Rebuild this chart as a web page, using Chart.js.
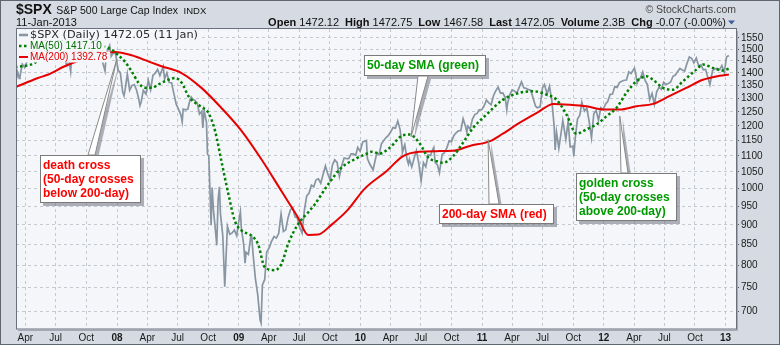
<!DOCTYPE html>
<html>
<head>
<meta charset="utf-8">
<script src="https://cdn.jsdelivr.net/npm/chart.js@4.4.1/dist/chart.umd.min.js"></script>
<style>
  body { margin: 0; background: #fff; }
  #wrap { position: relative; width: 780px; height: 345px; overflow: hidden; font-family: "Liberation Sans", Arial, sans-serif; color: #111; }
  #c { position: absolute; left: 0; top: 0; }
  .hd { position: absolute; white-space: nowrap; }
  .hd b { font-weight: bold; }
  .gap { margin-left: 6px; }
</style>
</head>
<body>
<div id="wrap">
  <canvas id="c" width="780" height="345"></canvas>
  <div class="hd" style="left:16px;top:0;line-height:18px">
    <span style="font-weight:bold;font-size:14px">$SPX</span>
    <span style="font-size:10.5px">S&amp;P 500 Large Cap Index</span>
    <span style="font-size:9.5px;margin-left:1px">INDX</span>
  </div>
  <div class="hd" style="left:16px;top:16px;line-height:13px;font-size:11px">11-Jan-2013</div>
  <div class="hd" style="right:54px;top:16px;line-height:13px;font-size:11px">
    <b>Open</b> 1472.12<b class="gap">High</b> 1472.75<b class="gap">Low</b> 1467.58<b class="gap">Last</b> 1472.05<b class="gap">Volume</b> 2.3B<b class="gap">Chg</b> -0.07 (-0.00%)
  </div>
  <div class="hd" style="right:44px;top:3px;line-height:12px;font-size:10.5px;color:#444">&copy; StockCharts.com</div>
</div>
<script>
// $SPX daily closes (sampled), Mar 2007 - Jan 2013
const spxDates = [
  '2007-03-02','2007-03-05','2007-03-09','2007-03-14','2007-03-16','2007-03-23','2007-03-30',
  '2007-04-05','2007-04-13','2007-04-20','2007-04-27',
  '2007-05-04','2007-05-11','2007-05-18','2007-05-25','2007-06-01',
  '2007-06-07','2007-06-15','2007-06-22','2007-06-29',
  '2007-07-06','2007-07-13','2007-07-19','2007-07-27',
  '2007-08-03','2007-08-06','2007-08-10','2007-08-15','2007-08-17','2007-08-24','2007-08-31',
  '2007-09-07','2007-09-14','2007-09-21','2007-09-28',
  '2007-10-05','2007-10-09','2007-10-12','2007-10-19','2007-10-26','2007-10-31',
  '2007-11-02','2007-11-09','2007-11-16','2007-11-26','2007-11-30',
  '2007-12-07','2007-12-10','2007-12-14','2007-12-21','2007-12-28',
  '2008-01-04','2008-01-11','2008-01-18','2008-01-22','2008-01-25',
  '2008-02-01','2008-02-08','2008-02-15','2008-02-22','2008-02-29',
  '2008-03-07','2008-03-10','2008-03-14','2008-03-20','2008-03-28',
  '2008-04-04','2008-04-11','2008-04-18','2008-04-25',
  '2008-05-02','2008-05-09','2008-05-19','2008-05-23','2008-05-30',
  '2008-06-06','2008-06-13','2008-06-20','2008-06-27',
  '2008-07-03','2008-07-11','2008-07-15','2008-07-18','2008-07-25',
  '2008-08-01','2008-08-08','2008-08-11','2008-08-15','2008-08-22','2008-08-29',
  '2008-09-05','2008-09-12','2008-09-15','2008-09-19','2008-09-26','2008-09-29',
  '2008-10-03','2008-10-10','2008-10-13','2008-10-17','2008-10-24','2008-10-27','2008-10-31',
  '2008-11-04','2008-11-07','2008-11-14','2008-11-20','2008-11-28',
  '2008-12-05','2008-12-12','2008-12-19','2008-12-26','2008-12-31',
  '2009-01-06','2009-01-09','2009-01-16','2009-01-20','2009-01-23','2009-01-30',
  '2009-02-06','2009-02-09','2009-02-13','2009-02-20','2009-02-27',
  '2009-03-06','2009-03-09','2009-03-13','2009-03-20','2009-03-26',
  '2009-04-03','2009-04-09','2009-04-17','2009-04-24',
  '2009-05-01','2009-05-08','2009-05-15','2009-05-22','2009-05-29',
  '2009-06-05','2009-06-12','2009-06-19','2009-06-26',
  '2009-07-02','2009-07-10','2009-07-17','2009-07-24','2009-07-31',
  '2009-08-07','2009-08-14','2009-08-21','2009-08-28',
  '2009-09-04','2009-09-11','2009-09-18','2009-09-25',
  '2009-10-02','2009-10-09','2009-10-16','2009-10-23','2009-10-30',
  '2009-11-06','2009-11-13','2009-11-20','2009-11-27',
  '2009-12-04','2009-12-11','2009-12-18','2009-12-24','2009-12-31',
  '2010-01-08','2010-01-19','2010-01-22','2010-01-29',
  '2010-02-08','2010-02-12','2010-02-19','2010-02-26',
  '2010-03-05','2010-03-12','2010-03-19','2010-03-26',
  '2010-04-01','2010-04-09','2010-04-16','2010-04-23','2010-04-30',
  '2010-05-06','2010-05-07','2010-05-14','2010-05-21','2010-05-25','2010-05-28',
  '2010-06-04','2010-06-11','2010-06-18','2010-06-25',
  '2010-07-02','2010-07-09','2010-07-16','2010-07-23','2010-07-30',
  '2010-08-06','2010-08-09','2010-08-13','2010-08-20','2010-08-26',
  '2010-09-03','2010-09-10','2010-09-17','2010-09-24',
  '2010-10-01','2010-10-08','2010-10-15','2010-10-22','2010-10-29',
  '2010-11-05','2010-11-12','2010-11-16','2010-11-19','2010-11-26',
  '2010-12-03','2010-12-10','2010-12-17','2010-12-23','2010-12-31',
  '2011-01-07','2011-01-14','2011-01-21','2011-01-28',
  '2011-02-04','2011-02-11','2011-02-18','2011-02-25',
  '2011-03-04','2011-03-11','2011-03-16','2011-03-18','2011-03-25',
  '2011-04-01','2011-04-08','2011-04-15','2011-04-21','2011-04-29',
  '2011-05-06','2011-05-13','2011-05-20','2011-05-27',
  '2011-06-03','2011-06-10','2011-06-15','2011-06-24',
  '2011-07-01','2011-07-07','2011-07-15','2011-07-22','2011-07-29',
  '2011-08-05','2011-08-08','2011-08-12','2011-08-19','2011-08-26','2011-08-31',
  '2011-09-09','2011-09-16','2011-09-22','2011-09-30',
  '2011-10-03','2011-10-07','2011-10-14','2011-10-21','2011-10-27',
  '2011-11-04','2011-11-11','2011-11-18','2011-11-25',
  '2011-12-02','2011-12-09','2011-12-16','2011-12-23','2011-12-30',
  '2012-01-06','2012-01-13','2012-01-20','2012-01-27',
  '2012-02-03','2012-02-10','2012-02-17','2012-02-24',
  '2012-03-02','2012-03-09','2012-03-16','2012-03-23',
  '2012-04-02','2012-04-06','2012-04-10','2012-04-13','2012-04-20','2012-04-27',
  '2012-05-04','2012-05-11','2012-05-18','2012-05-25',
  '2012-06-01','2012-06-08','2012-06-15','2012-06-22','2012-06-29',
  '2012-07-06','2012-07-13','2012-07-20','2012-07-27',
  '2012-08-03','2012-08-10','2012-08-17','2012-08-24','2012-08-31',
  '2012-09-07','2012-09-14','2012-09-21','2012-09-28',
  '2012-10-05','2012-10-12','2012-10-19','2012-10-26',
  '2012-11-02','2012-11-09','2012-11-15','2012-11-23','2012-11-30',
  '2012-12-07','2012-12-14','2012-12-21','2012-12-28','2012-12-31',
  '2013-01-04','2013-01-11'
];
const spxClose = [
  1387,1374,1402,1377,1386,1436,1421,
  1444,1452,1484,1494,
  1505,1505,1522,1515,1536,
  1491,1533,1503,1503,
  1530,1552,1553,1459,
  1433,1467,1453,1406,1445,1479,1474,
  1453,1484,1525,1527,
  1557,1565,1561,1500,1535,1549,
  1509,1453,1458,1407,1481,
  1504,1515,1468,1484,1478,
  1411,1401,1325,1310,1330,
  1395,1331,1349,1353,1331,
  1294,1273,1288,1330,1316,
  1370,1333,1390,1398,
  1414,1389,1426,1375,1400,
  1361,1360,1318,1278,
  1262,1239,1214,1260,1257,
  1260,1296,1305,1298,1292,1283,
  1242,1252,1193,1255,1213,1106,
  1099,899,1003,940,876,848,968,
  1005,930,873,752,896,
  876,879,887,872,903,
  935,890,850,805,831,826,
  869,870,827,770,735,
  683,677,756,768,832,
  843,857,870,866,
  878,929,883,887,919,
  940,946,921,918,
  896,879,940,979,987,
  1010,1005,1026,1029,
  1016,1042,1068,1044,
  1025,1071,1087,1079,1036,
  1069,1093,1091,1091,
  1106,1106,1102,1127,1115,
  1145,1150,1091,1074,
  1056,1075,1109,1104,
  1139,1150,1160,1167,
  1178,1194,1192,1217,1187,
  1128,1111,1136,1088,1074,1089,
  1065,1092,1117,1076,
  1023,1078,1065,1103,1101,
  1121,1127,1079,1071,1047,
  1104,1110,1125,1148,
  1146,1166,1176,1183,1183,
  1225,1199,1178,1199,1189,
  1224,1240,1244,1257,1258,
  1272,1293,1283,1276,
  1310,1329,1343,1320,
  1321,1304,1257,1279,1313,
  1332,1328,1320,1338,1364,
  1340,1338,1333,1331,
  1300,1271,1265,1268,
  1340,1353,1316,1346,1292,
  1199,1119,1179,1124,1177,1219,
  1154,1216,1129,1131,
  1099,1155,1224,1238,1285,
  1253,1263,1216,1159,
  1244,1255,1219,1265,1258,
  1278,1289,1315,1316,
  1345,1342,1361,1366,
  1370,1371,1404,1397,
  1419,1398,1358,1370,1379,1403,
  1369,1353,1295,1318,
  1278,1325,1343,1335,1362,
  1354,1357,1363,1386,
  1391,1405,1418,1411,1407,
  1438,1466,1460,1441,
  1461,1429,1433,1412,
  1414,1380,1353,1409,1416,
  1418,1413,1430,1402,1426,
  1466,1472.05
];

// 50-day SMA (green dotted)
const ma50Dates = [
  '2007-03-01','2007-04-28','2007-06-10','2007-07-20','2007-09-01','2007-10-10','2007-11-15','2007-12-16',
  '2008-01-03','2008-01-24','2008-02-14','2008-03-06','2008-03-26','2008-04-15','2008-05-04','2008-06-03','2008-06-24',
  '2008-07-14','2008-08-03','2008-08-23','2008-09-12','2008-10-02','2008-10-22','2008-11-10','2008-12-01','2008-12-20',
  '2009-01-10','2009-02-09','2009-02-28','2009-03-20','2009-04-19','2009-05-09','2009-05-29','2009-06-28','2009-07-28',
  '2009-08-17','2009-09-26','2009-11-05','2009-12-15',
  '2010-01-14','2010-02-05','2010-02-28','2010-03-30','2010-05-09','2010-05-29','2010-06-28','2010-07-23','2010-08-17',
  '2010-09-06','2010-10-06','2010-11-05','2010-12-05',
  '2011-01-14','2011-03-05','2011-04-24','2011-06-03','2011-07-13','2011-08-12','2011-09-11','2011-10-11','2011-11-10','2011-12-10',
  '2012-01-09','2012-02-08','2012-03-09','2012-04-08','2012-05-08','2012-05-28','2012-06-27','2012-07-27','2012-08-26',
  '2012-10-05','2012-10-25','2012-11-24','2012-12-24',
  '2013-01-11'
];
const ma50Vals = [
  1423,1440,1490,1512,1495,1495,1512,1497,
  1476,1447,1406,1359,1340,1340,1353,1372,1379,
  1359,1308,1283,1267,1246,1182,1083,984,911,
  885,872,851,796,789,803,851,902,933,
  955,1012,1063,1089,
  1104,1113,1107,1126,1168,1170,1140,1095,1083,
  1078,1099,1143,1193,
  1240,1295,1321,1327,1314,1295,1240,1173,1188,1205,
  1234,1264,1321,1366,1386,1372,1340,1333,1366,
  1413,1434,1420,1409,
  1417.10
];

// 200-day SMA (red)
const ma200Dates = [
  '2007-03-03','2007-05-09','2007-06-07','2007-07-28','2007-09-16','2007-11-01','2007-12-25',
  '2008-02-14','2008-04-04','2008-05-14','2008-07-13','2008-09-11','2008-11-10',
  '2009-01-10','2009-03-10','2009-05-09','2009-06-28','2009-07-28','2009-08-27','2009-10-06','2009-11-24',
  '2010-01-14','2010-03-20','2010-05-09','2010-06-28','2010-08-17','2010-10-05','2010-11-25',
  '2011-01-25','2011-03-04','2011-04-24','2011-06-14','2011-08-03','2011-09-21','2011-11-10','2011-12-30',
  '2012-02-18','2012-04-08','2012-05-28','2012-07-16','2012-09-05','2012-10-25','2012-12-14',
  '2013-01-11'
];
const ma200Vals = [
  1343,1379,1392,1427,1454,1474,1487,
  1473,1447,1427,1399,1340,1264,
  1182,1089,993,919,874,875,900,940,
  1000,1052,1099,1113,1115,1116,1132,
  1148,1173,1211,1246,1279,1276,1270,1258,
  1258,1270,1279,1308,1340,1372,1388,
  1392.78
];

// axis ticks
const xTickDates = [
  '2007-04-01','2007-07-01','2007-10-01',
  '2008-01-01','2008-04-01','2008-07-01','2008-10-01',
  '2009-01-01','2009-04-01','2009-07-01','2009-10-01',
  '2010-01-01','2010-04-01','2010-07-01','2010-10-01',
  '2011-01-01','2011-04-01','2011-07-01','2011-10-01',
  '2012-01-01','2012-04-01','2012-07-01','2012-10-01',
  '2013-01-01'
];
const xTickLabels = [
  'Apr','Jul','Oct',
  '08','Apr','Jul','Oct',
  '09','Apr','Jul','Oct',
  '10','Apr','Jul','Oct',
  '11','Apr','Jul','Oct',
  '12','Apr','Jul','Oct',
  '13'
];
const yTicks = [700,750,800,850,900,950,1000,1050,1100,1150,1200,1250,1300,1350,1400,1450,1500,1550];

// callouts: tip sits on the chart (date, value), box is placed in pixels
const notes = [
  { lines: ['death cross', '(50-day crosses', 'below 200-day)'], color: '#ff0000',
    tipDate: '2007-12-31', tipValue: 1454, box: { x: 40, y: 155, w: 101, h: 48 }, stem: [88, 95], side: 'top' },
  { lines: ['50-day SMA (green)'], color: '#009a00',
    tipDate: '2010-06-02', tipValue: 1163, box: { x: 364, y: 55, w: 122, h: 21 }, stem: [418, 428], side: 'bottom' },
  { lines: ['200-day SMA (red)'], color: '#ff0000',
    tipDate: '2011-01-19', tipValue: 1153, box: { x: 439, y: 204, w: 115, h: 20 }, stem: [489, 499], side: 'top' },
  { lines: ['golden cross', '(50-day crosses', 'above 200-day)'], color: '#009a00',
    tipDate: '2012-02-18', tipValue: 1234, box: { x: 576, y: 173, w: 101, h: 48 }, stem: [621, 628], side: 'top' }
];

const xMin = 2007.17, xMax = 2013.086;
const yMin = 665, yMax = 1590;
const tickFont = "'Liberation Sans Narrow', 'Liberation Sans', Arial, sans-serif";

function decYear(s) {
  const [y, m, d] = s.split('-').map(Number);
  const t0 = Date.UTC(y, 0, 1), t1 = Date.UTC(y + 1, 0, 1);
  return y + (Date.UTC(y, m - 1, d) - t0) / (t1 - t0);
}
function pts(dates, vals) {
  return dates.map((d, i) => ({ x: decYear(d), y: vals[i] }));
}

const monthNames = ['Jan','Feb','Mar','Apr','May','Jun','Jul','Aug','Sep','Oct','Nov','Dec'];
const lastDate = spxDates[spxDates.length - 1].split('-').map(Number);

const legendRows = [
  { text: `$SPX (Daily) ${spxClose.at(-1).toFixed(2)} (${lastDate[2]} ${monthNames[lastDate[1] - 1]})`, color: '#2a2a2a',
    font: '11.3px "DejaVu Sans", Verdana, sans-serif', line: '#8796a2', dash: [], w: 2.5 },
  { text: `MA(50) ${ma50Vals.at(-1).toFixed(2)}`, color: '#007000',
    font: '10px "Liberation Sans", Arial, sans-serif', line: '#008000', dash: [2.5, 2.5], w: 2.5 },
  { text: `MA(200) ${ma200Vals.at(-1).toFixed(2)}`, color: '#e00000',
    font: '10px "Liberation Sans", Arial, sans-serif', line: '#e60000', dash: [], w: 2 }
];

const chrome = {
  id: 'chrome',
  beforeDraw(c) {
    const g = c.ctx, a = c.chartArea;
    g.save();
    g.fillStyle = '#d6dbe3';
    g.fillRect(0, 0, c.width, c.height);
    g.fillStyle = '#f5f6fa';
    g.fillRect(a.left, a.top, a.right - a.left, a.bottom - a.top);
    g.restore();
  },
  afterDatasetsDraw(c) {
    const g = c.ctx, a = c.chartArea, sx = c.scales.x, sy = c.scales.y;
    g.save();
    // legend
    g.textBaseline = 'middle';
    legendRows.forEach((r, i) => {
      const cy = a.top + 6 + i * 11;
      g.font = r.font;
      const tw = g.measureText(r.text).width;
      g.fillStyle = '#f5f6fa';
      g.fillRect(a.left + 1, cy - 5.5, 30 - a.left + tw + 2, 11);
      g.strokeStyle = r.line;
      g.lineWidth = r.w;
      g.setLineDash(r.dash);
      g.beginPath();
      g.moveTo(a.left + 3, cy);
      g.lineTo(a.left + 12, cy);
      g.stroke();
      g.setLineDash([]);
      g.fillStyle = r.color;
      g.fillText(r.text, 30, cy + 0.5);
    });
    // callouts
    notes.forEach(n => {
      const tx = sx.getPixelForValue(decYear(n.tipDate));
      const ty = sy.getPixelForValue(n.tipValue);
      const b = n.box;
      const by = n.side === 'top' ? b.y : b.y + b.h;
      const poly = (dx, dy) => {
        g.beginPath();
        g.moveTo(tx + dx, ty + dy);
        g.lineTo(n.stem[0] + dx, by + dy);
        g.lineTo(n.stem[1] + dx, by + dy);
        g.closePath();
      };
      g.fillStyle = 'rgba(110,115,125,0.55)';
      poly(3, 3); g.fill();
      g.fillRect(b.x + 3, b.y + 3, b.w, b.h);
      g.fillStyle = '#ffffff';
      g.strokeStyle = '#8a8a8a';
      g.lineWidth = 1;
      poly(0, 0); g.fill(); g.stroke();
      g.fillRect(b.x, b.y, b.w, b.h);
      g.strokeStyle = '#7a7a7a';
      g.strokeRect(b.x + 0.5, b.y + 0.5, b.w - 1, b.h - 1);
      g.font = 'bold 12px "Liberation Sans", Arial, sans-serif';
      g.fillStyle = n.color;
      g.textBaseline = 'middle';
      const y0 = b.y + (b.h - (n.lines.length - 1) * 14) / 2 + 0.5;
      n.lines.forEach((t, i) => g.fillText(t, b.x + 3, y0 + i * 14));
    });
    g.restore();
  },
  afterDraw(c) {
    const g = c.ctx, a = c.chartArea;
    g.save();
    g.lineWidth = 1;
    g.strokeStyle = '#6a717c';
    g.strokeRect(a.left + 0.5, a.top - 0.5, a.right - a.left, a.bottom - a.top + 0.5);
    g.strokeStyle = '#a3a9b2';
    g.beginPath();
    g.moveTo(a.right + 1.5, a.top + 2); g.lineTo(a.right + 1.5, a.bottom + 1.5); g.lineTo(a.left + 2, a.bottom + 1.5);
    g.stroke();
    g.strokeStyle = '#5e6672';
    g.strokeRect(0.5, 0.5, c.width - 1, c.height - 1);
    // change arrow
    g.fillStyle = '#3d5f95';
    g.beginPath();
    g.moveTo(728, 20.5); g.lineTo(735, 20.5); g.lineTo(731.5, 24.5); g.closePath();
    g.fill();
    g.restore();
  }
};

new Chart(document.getElementById('c'), {
  type: 'line',
  data: {
    datasets: [
      { label: '$SPX', data: pts(spxDates, spxClose), borderColor: '#8796a2', borderWidth: 1.7,
        pointRadius: 0, tension: 0, order: 3 },
      { label: 'MA(200)', data: pts(ma200Dates, ma200Vals), borderColor: '#e60000', borderWidth: 2,
        pointRadius: 0, cubicInterpolationMode: 'monotone', order: 2 },
      { label: 'MA(50)', data: pts(ma50Dates, ma50Vals), borderColor: '#008000', borderWidth: 2.5,
        borderDash: [2.5, 2.5], pointRadius: 0, cubicInterpolationMode: 'monotone', order: 1 }
    ]
  },
  options: {
    responsive: false,
    animation: false,
    devicePixelRatio: 1,
    layout: { padding: { left: 16, top: 29, right: 0, bottom: 0 } },
    plugins: { legend: { display: false }, tooltip: { enabled: false } },
    scales: {
      x: {
        type: 'linear', min: xMin, max: xMax,
        afterBuildTicks: s => { s.ticks = xTickDates.map(d => ({ value: decYear(d) })); },
        afterFit: s => { s.height = 16; },
        grid: { color: '#c4c8cf', lineWidth: 1, drawTicks: false },
        border: { display: false, dash: [3, 3] },
        ticks: {
          autoSkip: false, maxRotation: 0, minRotation: 0, padding: 3, color: '#1a1a1a',
          font: ctx => ({ family: tickFont, size: 10, weight: /^\d\d$/.test(xTickLabels[ctx.index] || '') ? 'bold' : 'normal' }),
          callback: (v, i) => xTickLabels[i]
        }
      },
      y: {
        type: 'logarithmic', position: 'right', min: yMin, max: yMax,
        afterBuildTicks: s => { s.ticks = yTicks.map(v => ({ value: v })); },
        afterFit: s => { s.width = 44; },
        grid: { color: '#c4c8cf', lineWidth: 1, drawTicks: true, tickLength: 3, tickColor: '#555', tickBorderDash: [] },
        border: { display: false, dash: [3, 3] },
        ticks: { autoSkip: false, padding: 2, color: '#1a1a1a', font: { family: tickFont, size: 10 }, callback: v => String(v) }
      }
    }
  },
  plugins: [chrome]
});
</script>
</body>
</html>
